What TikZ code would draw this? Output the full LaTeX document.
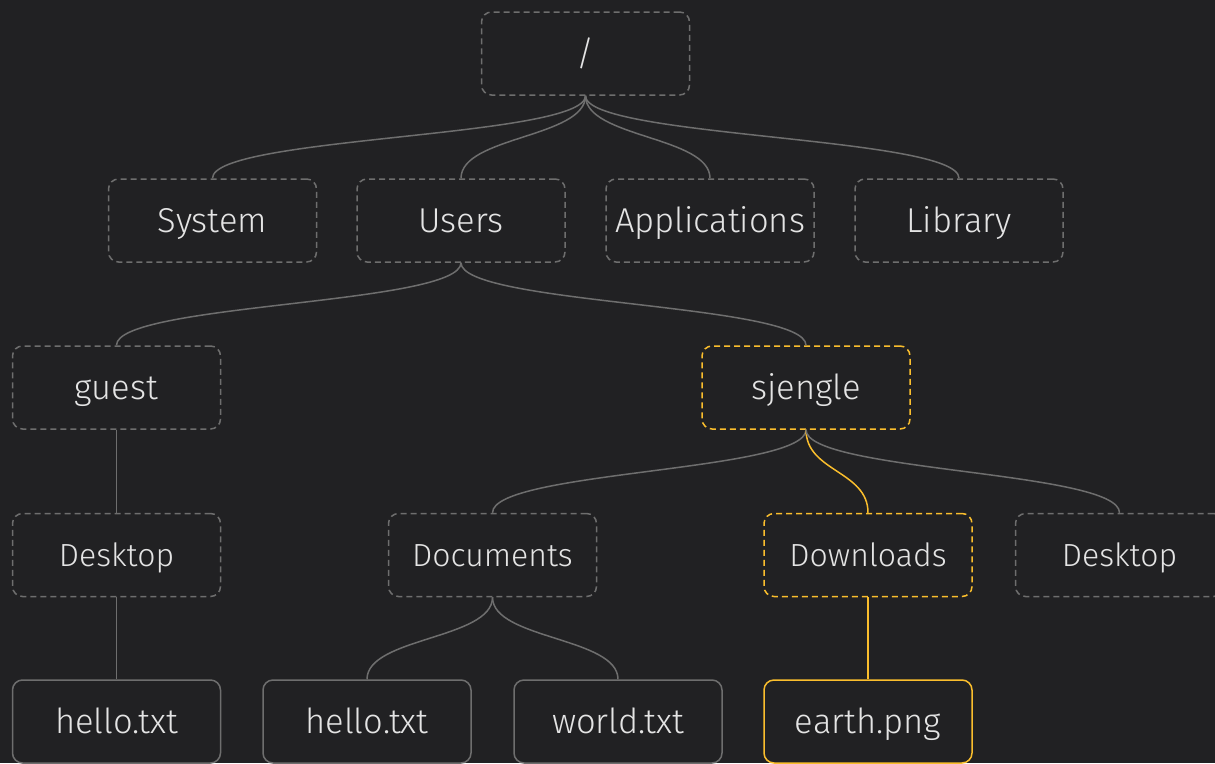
\documentclass[tikz,border=0pt]{standalone}
\usepackage{fontspec}
\IfFontExistsTF{Fira Sans Light}{\setmainfont{Fira Sans Light}}{\setmainfont{Fira Sans}}
\usepackage{tikz}
\usetikzlibrary{arrows.meta}
\usetikzlibrary{calc,positioning}

\definecolor{bgdark}{RGB}{33,33,35}
\definecolor{edgegray}{RGB}{110,110,110}
\definecolor{hilite}{RGB}{250,190,45}
\definecolor{txt}{RGB}{228,228,228}

\begin{document}
\begin{tikzpicture}[x=1pt, y=-1pt, line width=1.5pt,
    box/.style={draw=edgegray, fill=bgdark, rounded corners=10pt, minimum width=208pt,
        minimum height=83pt, text=txt, font=\fontsize{34.5}{40}\selectfont,
        text height=24pt, text depth=0pt},
    small/.style={font=\fontsize{32}{38}\selectfont, text height=22.5pt},
    folder/.style={box, dash pattern=on 6pt off 4pt},
    file/.style={box},
    sel/.style={draw=hilite},
    link/.style={draw=edgegray},
    link sel/.style={draw=hilite}]

    \useasboundingbox[fill=bgdark] (0,0) rectangle (1215,763);

    % tree, top down
    \node[folder] (root) at (585.5,53.5) {/};

    \node[folder] (system) at (212.5,220.5) {System};
    \node[folder] (users)  at (461,220.5)   {Users};
    \node[folder] (apps)   at (710,220.5)   {Applications};
    \node[folder] (lib)    at (959,220.5)   {Library};

    \node[folder] (guest)   at (116.5,387.5) {guest};
    \node[folder, sel] (sjengle) at (806,387.5) {sjengle};

    \node[folder, small] (gdesk)  at (116.5,555)  {Desktop};
    \node[folder, small] (docs)   at (492.5,555)  {Documents};
    \node[folder, small, sel] (downl) at (868,555) {Downloads};
    \node[folder, small] (sdesk)  at (1119.5,555) {Desktop};

    \node[file] (ghello) at (116.5,721.5) {hello.txt};
    \node[file] (shello) at (367,721.5)   {hello.txt};
    \node[file] (world)  at (618,721.5)   {world.txt};
    \node[file, sel] (earth) at (868,721.5) {earth.png};

    % links
    \foreach \p/\c/\s in {root/system/link, root/users/link, root/apps/link, root/lib/link,
        users/guest/link, users/sjengle/link, guest/gdesk/link,
        sjengle/docs/link, sjengle/downl/link sel, sjengle/sdesk/link,
        gdesk/ghello/link, docs/shello/link, docs/world/link, downl/earth/link sel}
        \draw[\s] (\p.south) .. controls +(0,42) and +(0,-42) .. (\c.north);

\end{tikzpicture}
\end{document}
